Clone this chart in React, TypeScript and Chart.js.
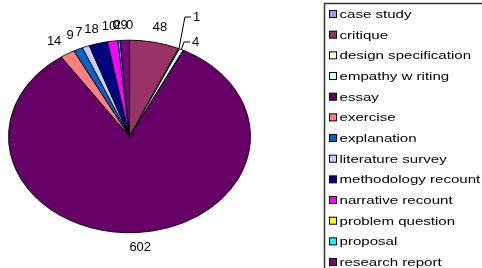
import React, { useEffect, useRef } from "react";
import { Chart, registerables } from "chart.js";

Chart.register(...registerables);

const categories = [
  "case study",
  "critique",
  "design specification",
  "empathy w riting",
  "essay",
  "exercise",
  "explanation",
  "literature survey",
  "methodology recount",
  "narrative recount",
  "problem question",
  "proposal",
  "research report",
];
const counts = [0, 48, 1, 4, 602, 14, 9, 7, 18, 10, 0, 2, 9];
const sliceColors = [
  "#9999FF",
  "#993366",
  "#FFFFCC",
  "#CCFFFF",
  "#660066",
  "#FF8080",
  "#0066CC",
  "#CCCCFF",
  "#000080",
  "#FF00FF",
  "#FFFF00",
  "#00FFFF",
  "#800080",
];

// layout / style settings (not data)
const RX = 121;
const RY = 96.3;
const K = RY / RX;
const LABEL_FONT = '13px "Liberation Sans", Arial, sans-serif';
const LEGEND_FONT = '11px "Liberation Sans", Arial, sans-serif';
const LEGEND_STRETCH = 1.37;
// labels moved off the pie with a leader line (offset from slice edge point)
const labelNudges: Record<string, [number, number]> = {
  "design specification": [14, -31.6],
  "empathy w riting": [10.7, -7.5],
};

const ellipsePlugin = {
  id: "ellipse",
  beforeDatasetsDraw(chart: any) {
    const arc = chart.getDatasetMeta(0).data[0];
    const ctx = chart.ctx;
    ctx.save();
    ctx.translate(arc.x, arc.y);
    ctx.scale(1, K);
    ctx.translate(-arc.x, -arc.y);
  },
  afterDatasetsDraw(chart: any) {
    chart.ctx.restore();
  },
};

const labelPlugin = {
  id: "sliceLabels",
  afterDraw(chart: any) {
    const ctx = chart.ctx;
    const meta = chart.getDatasetMeta(0);
    const vals = chart.data.datasets[0].data as number[];
    const names = chart.data.labels as string[];
    ctx.save();
    ctx.font = LABEL_FONT;
    ctx.fillStyle = "#000";
    ctx.strokeStyle = "#000";
    ctx.lineWidth = 1;
    meta.data.forEach((arc: any, i: number) => {
      const a = (arc.startAngle + arc.endAngle) / 2;
      const cx = arc.x;
      const cy = arc.y;
      const text = String(vals[i]);
      const w = ctx.measureText(text).width;
      const nudge = labelNudges[names[i]];
      if (nudge) {
        const px = cx + RX * Math.cos(a);
        const py = cy + RY * Math.sin(a);
        const lx = px + nudge[0];
        const ly = py + nudge[1];
        ctx.beginPath();
        ctx.moveTo(px, py);
        ctx.lineTo(lx - 8, ly);
        ctx.lineTo(lx - 2, ly);
        ctx.stroke();
        ctx.textAlign = "left";
        ctx.textBaseline = "middle";
        ctx.fillText(text, lx, ly);
        return;
      }
      const c = Math.cos(a);
      const s = Math.sin(a);
      const shift = Math.max(-1, Math.min(1, 2 * c)) * (w / 2);
      const x = cx + (RX + 12) * c + shift;
      const y = cy + (RY + 15) * s;
      ctx.textAlign = "center";
      ctx.textBaseline = "middle";
      ctx.fillText(text, x, y);
    });
    ctx.restore();
  },
};

const legendPlugin = {
  id: "boxLegend",
  afterDraw(chart: any) {
    const ctx = chart.ctx;
    const names = chart.data.labels as string[];
    const cols = chart.data.datasets[0].backgroundColor as string[];
    const left = 324.5;
    const top = 3.5;
    ctx.save();
    ctx.strokeStyle = "#333";
    ctx.lineWidth = 1.5;
    ctx.strokeRect(left, top, 200, 300);
    ctx.font = LEGEND_FONT;
    ctx.textAlign = "left";
    ctx.textBaseline = "alphabetic";
    names.forEach((name, i) => {
      const yc = 14 + i * 20.67;
      ctx.fillStyle = cols[i];
      ctx.fillRect(329.5, yc - 3.5, 7, 7);
      ctx.strokeStyle = "#000";
      ctx.lineWidth = 1;
      ctx.strokeRect(329.5, yc - 3.5, 7, 7);
      ctx.fillStyle = "#000";
      ctx.save();
      ctx.translate(339.5, yc + 4);
      ctx.scale(LEGEND_STRETCH, 1);
      ctx.fillText(name, 0, 0);
      ctx.restore();
    });
    ctx.restore();
  },
};

export default function App() {
  const ref = useRef<HTMLCanvasElement | null>(null);
  useEffect(() => {
    if (!ref.current) return;
    const chart = new Chart(ref.current, {
      type: "pie",
      data: {
        labels: categories,
        datasets: [
          {
            data: counts,
            backgroundColor: sliceColors,
            borderColor: "#000",
            borderWidth: 1,
            radius: RX,
          } as any,
        ],
      },
      options: {
        responsive: false,
        animation: false,
        events: [],
        layout: { padding: { left: 8, right: 231, top: 15, bottom: 10 } },
        plugins: {
          legend: { display: false },
          tooltip: { enabled: false },
        },
      },
      plugins: [ellipsePlugin, labelPlugin, legendPlugin],
    });
    return () => chart.destroy();
  }, []);
  return (
    <div style={{ position: "fixed", left: 0, top: 0, width: 482, height: 268, background: "#fff" }}>
      <canvas ref={ref} width={482} height={268} />
    </div>
  );
}
